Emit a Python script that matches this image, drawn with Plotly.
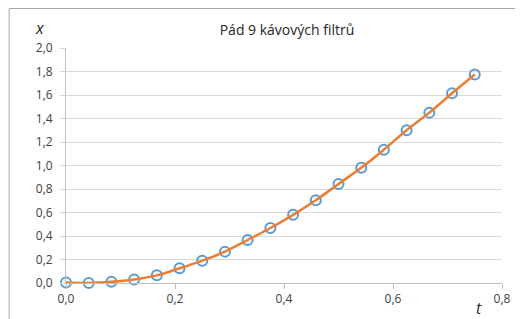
import plotly.graph_objects as go

t_values = [0.0, 0.0417, 0.0833, 0.125, 0.1667, 0.2083, 0.25, 0.2917, 0.3333, 0.375,
            0.4167, 0.4583, 0.5, 0.5417, 0.5833, 0.625, 0.6667, 0.7083, 0.75]
x_values = [0.005, 0.0, 0.01, 0.03, 0.065, 0.125, 0.19, 0.267, 0.366, 0.468,
            0.58, 0.704, 0.843, 0.98, 1.135, 1.30, 1.45, 1.615, 1.775]
x_ticks = [0.0, 0.2, 0.4, 0.6, 0.8]
x_tick_labels = ["0,0", "0,2", "0,4", "0,6", "0,8"]
y_ticks = [0.0, 0.2, 0.4, 0.6, 0.8, 1.0, 1.2, 1.4, 1.6, 1.8, 2.0]
y_tick_labels = ["0,0", "0,2", "0,4", "0,6", "0,8", "1,0", "1,2", "1,4", "1,6", "1,8", "2,0"]
title_text = "Pád 9 kávových filtrů"

FONT = "Open Sans"
# page body has an 8px default margin, so the figure is sized/offset to compensate
W, H = 515, 311
L, T, R, B = 58, 40, 16, 36
PW, PH = W - L - R, H - T - B


def px_x(fx):
    return (fx - L) / PW


def px_y(fy):
    return (H - B - fy) / PH


fig = go.Figure()
fig.add_trace(go.Scatter(
    x=t_values, y=x_values, mode="markers",
    marker=dict(symbol="circle-open", size=10, color="#5B9BD5", line=dict(width=2, color="#5B9BD5")),
    showlegend=False, cliponaxis=False))
fig.add_trace(go.Scatter(
    x=t_values, y=x_values, mode="lines", line=dict(color="#ED7D31", width=2.5, shape="spline"),
    showlegend=False, cliponaxis=False))

fig.update_layout(
    width=W, height=H,
    margin=dict(l=L, r=R, t=T, b=B),
    paper_bgcolor="white", plot_bgcolor="white",
    title=dict(text=title_text, x=279 / W, xanchor="center", y=1 - 22 / H, yanchor="middle",
               font=dict(family=FONT, size=14, color="#262626")),
    xaxis=dict(range=[0, 0.8], tickvals=x_ticks, ticktext=x_tick_labels, showgrid=False,
               zeroline=False,
               showline=True, linecolor="#BFBFBF", linewidth=1,
               ticks="outside", ticklen=5, tickcolor="#BFBFBF",
               tickfont=dict(family=FONT, size=12, color="#404040")),
    yaxis=dict(range=[0, 2.0], tickvals=y_tick_labels and y_ticks, ticktext=y_tick_labels, showgrid=True,
               gridcolor="#D9D9D9", gridwidth=1, zeroline=False,
               showline=True, linecolor="#BFBFBF", linewidth=1,
               ticks="outside", ticklen=5, tickcolor="#D9D9D9", ticklabelstandoff=5,
               tickfont=dict(family=FONT, size=12, color="#404040")),
    annotations=[
        dict(text="<i>x</i>", xref="paper", yref="paper", x=px_x(32), y=px_y(20),
             showarrow=False, xanchor="center", yanchor="middle",
             font=dict(family=FONT, size=16, color="#262626")),
        dict(text="<i>t</i>", xref="paper", yref="paper", x=px_x(476), y=px_y(300),
             showarrow=False, xanchor="center", yanchor="middle",
             font=dict(family=FONT, size=16, color="#262626")),
    ],
    shapes=[
        dict(type="line", xref="paper", yref="paper", x0=px_x(0.5), x1=px_x(W), y0=px_y(0.5), y1=px_y(0.5),
             line=dict(color="#A6A6A6", width=1)),
        dict(type="line", xref="paper", yref="paper", x0=px_x(0.5), x1=px_x(0.5), y0=px_y(0.5), y1=px_y(H),
             line=dict(color="#A6A6A6", width=1)),
    ],
)
fig.write_html("out.html")
